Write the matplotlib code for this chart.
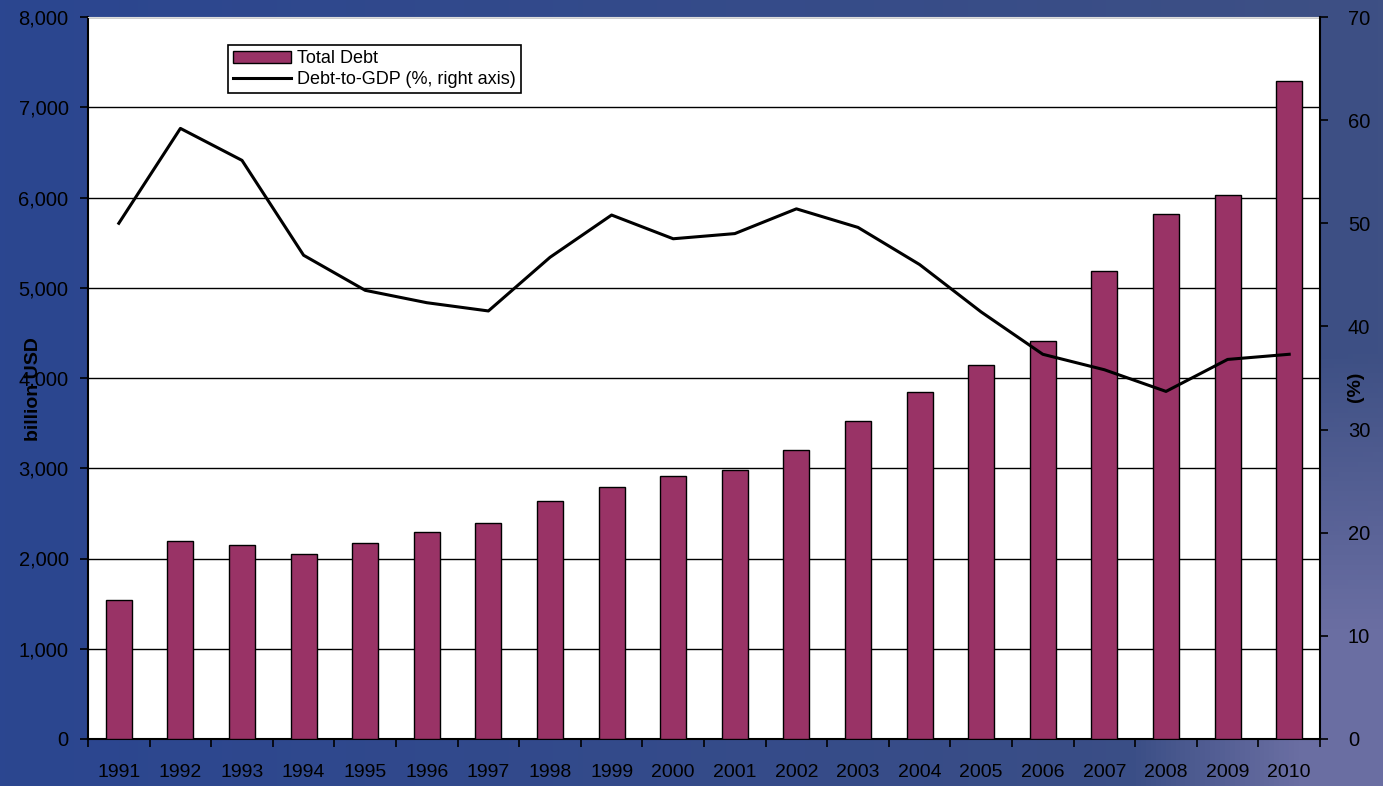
import matplotlib
matplotlib.use("Agg")
import matplotlib.pyplot as plt
import numpy as np

years = ["1991", "1992", "1993", "1994", "1995", "1996", "1997", "1998", "1999", "2000",
         "2001", "2002", "2003", "2004", "2005", "2006", "2007", "2008", "2009", "2010"]
total_debt = [1540, 2194, 2150, 2050, 2172, 2294, 2393, 2637, 2792, 2914,
              2981, 3202, 3524, 3845, 4144, 4410, 5186, 5817, 6028, 7291]
debt_to_gdp = [50.0, 59.2, 56.1, 46.9, 43.5, 42.3, 41.5, 46.7, 50.8, 48.5,
               49.0, 51.4, 49.6, 46.0, 41.4, 37.3, 35.8, 33.7, 36.8, 37.3]
left_ticks = [0, 1000, 2000, 3000, 4000, 5000, 6000, 7000, 8000]
right_ticks = [0, 10, 20, 30, 40, 50, 60, 70]

plt.rcParams['font.family'] = ['Liberation Sans', 'DejaVu Sans']

W, H = 1383, 786
fig = plt.figure(figsize=(W / 100, H / 100), dpi=100)

# background: blue gradient, lighter purple toward lower right
bg = fig.add_axes([0, 0, 1, 1], zorder=-10)
gx = np.linspace(0, 1, 280)[None, :]
gy = np.linspace(0, 1, 160)[:, None]
c_left = np.array([0x2B, 0x46, 0x90]) / 255
c_right = np.array([0x3E, 0x50, 0x84]) / 255
c_light = np.array([0x6A, 0x6E, 0xA2]) / 255
base = c_left[None, None, :] * (1 - gx[..., None]) + c_right[None, None, :] * gx[..., None]
w = np.clip((gx - 0.82) / 0.12, 0, 1) * np.clip((gy - 0.45) / 0.35, 0, 1)
img = base * (1 - w[..., None]) + c_light[None, None, :] * w[..., None]
bg.imshow(img, aspect="auto", extent=[0, 1, 0, 1], origin="upper")
bg.axis("off")

left, right, top, bottom = 88, 1320, 17, 739
ax = fig.add_axes([left / W, 1 - bottom / H, (right - left) / W, (bottom - top) / H])
ax.set_facecolor("white")

x = np.arange(len(years))
bars = ax.bar(x, total_debt, width=0.42, color="#993366", edgecolor="black",
              linewidth=1.0, zorder=3, label="Total Debt")
ax.set_xlim(-0.5, len(years) - 0.5)
ax.set_ylim(0, 8000)
ax.set_yticks(left_ticks)
ax.set_yticklabels([f"{v:,}" for v in left_ticks], fontsize=14.5)
ax.yaxis.grid(True, color="black", linewidth=1.0, zorder=1)
ax.set_axisbelow(True)

ax.set_xticks(np.arange(-0.5, len(years), 1.0))
ax.set_xticklabels([])
ax.set_xticks(x, minor=True)
ax.set_xticklabels(years, minor=True, fontsize=14)
ax.tick_params(axis="x", which="major", direction="out", length=6, width=1.2, color="black")
ax.tick_params(axis="x", which="minor", length=0, pad=18)
ax.tick_params(axis="y", direction="out", length=6, width=1.2, pad=8)
ax.set_ylabel("billion USD", fontsize=14, fontweight="bold")
ax.yaxis.set_label_coords((42 - left) / (right - left), (bottom - 389) / (bottom - top))

for s in ["left", "bottom"]:
    ax.spines[s].set_color("black")
    ax.spines[s].set_linewidth(1.5)
ax.spines["top"].set_color("#dddddd")
ax.spines["right"].set_visible(False)

ax2 = ax.twinx()
line, = ax2.plot(x, debt_to_gdp, color="black", linewidth=2.2, zorder=5,
                 label="Debt-to-GDP (%, right axis)")
ax2.set_ylim(0, 70)
ax2.set_yticks(right_ticks)
ax2.set_yticklabels([str(v) for v in right_ticks], fontsize=14.5)
ax2.tick_params(axis="y", direction="out", length=6, width=1.2, pad=14)
ax2.spines["right"].set_color("black")
ax2.spines["right"].set_linewidth(1.5)
for s in ["left", "top", "bottom"]:
    ax2.spines[s].set_visible(False)
ax2.set_ylabel("(%)", fontsize=14, fontweight="bold")
ax2.yaxis.set_label_coords((1347 - left) / (right - left), (bottom - 387) / (bottom - top))

leg = ax2.legend([bars, line], ["Total Debt", "Debt-to-GDP (%, right axis)"],
                 loc="upper left",
                 bbox_to_anchor=((228 - left) / (right - left), 1 - (45 - top) / (bottom - top)),
                 fontsize=13, frameon=True, fancybox=False, framealpha=1,
                 edgecolor="black", borderpad=0.3, labelspacing=0.2,
                 handlelength=3.2, handleheight=0.6, handletextpad=0.3, borderaxespad=0)
leg.get_frame().set_linewidth(1.2)

fig.savefig("out.png", dpi=100)
